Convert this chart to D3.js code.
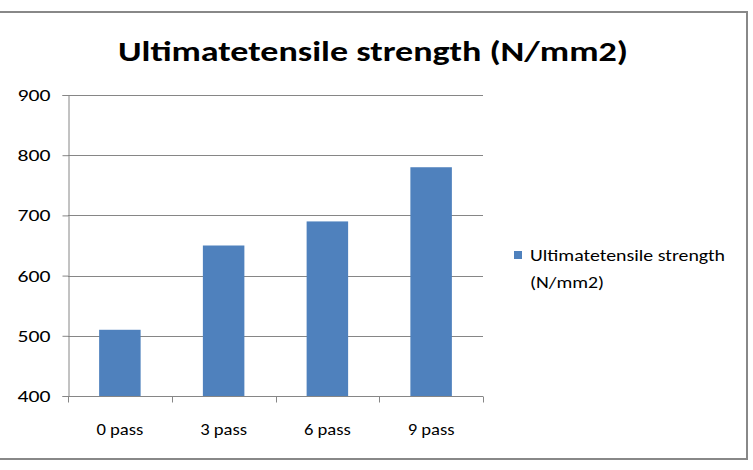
<!DOCTYPE html>
<html>
<head>
<meta charset="utf-8">
<script src="https://cdn.jsdelivr.net/npm/d3@7"></script>
<style>
  body { margin: 0; background: #fff; }
  svg { display: block; font-family: Carlito, Calibri, Lato, sans-serif; }
</style>
</head>
<body>
<svg id="chart" width="753" height="470"></svg>
<script>
const categories = ['0 pass', '3 pass', '6 pass', '9 pass'];
const values = [510, 650, 690, 780];
const yTicks = [400, 500, 600, 700, 800, 900];
const seriesName = 'Ultimatetensile strength (N/mm2)';
const legendLines = ['Ultimatetensile strength', '(N/mm2)'];

const width = 753;
const height = 470;
const plot = { left: 68, right: 483, top: 95, bottom: 396 };
const barColor = '#4F81BD';
const gridColor = '#868686';

const svg = d3.select('#chart');

// stretch a text node to a target width (reference text is wide)
const fitWidth = (sel, w) =>
  sel.attr('textLength', w).attr('lengthAdjust', 'spacingAndGlyphs');

// outer chart border (left edge runs off the image)
svg.append('rect')
  .attr('x', -5)
  .attr('y', 12)
  .attr('width', 752)
  .attr('height', 447)
  .attr('fill', '#fff')
  .attr('stroke', '#888')
  .attr('stroke-width', 2);

// title
svg.append('text')
  .attr('x', 118)
  .attr('y', 61)
  .attr('font-weight', 'bold')
  .attr('font-size', 29)
  .attr('fill', '#000')
  .text(seriesName)
  .call(fitWidth, 510);

const x = d3.scaleBand()
  .domain(categories)
  .range([plot.left, plot.right])
  .paddingInner(0.6)
  .paddingOuter(0.3);

const y = d3.scaleLinear()
  .domain([400, 900])
  .range([plot.bottom, plot.top]);

// gridlines
svg.append('g')
  .selectAll('line')
  .data(yTicks.slice(1))
  .join('line')
  .attr('x1', plot.left)
  .attr('x2', plot.right)
  .attr('y1', d => Math.round(y(d)) + 0.5)
  .attr('y2', d => Math.round(y(d)) + 0.5)
  .attr('stroke', gridColor)
  .attr('stroke-width', 1);

// bars
svg.append('g')
  .selectAll('rect')
  .data(values)
  .join('rect')
  .attr('x', (d, i) => x(categories[i]))
  .attr('y', d => y(d))
  .attr('width', x.bandwidth())
  .attr('height', d => y(400) - y(d))
  .attr('fill', barColor);

// y axis
const gy = svg.append('g')
  .attr('transform', `translate(${plot.left + 0.5},0)`)
  .call(d3.axisLeft(y).tickValues(yTicks).tickSize(6).tickPadding(12).tickFormat(d3.format('d')));
gy.select('.domain').attr('stroke', gridColor);
gy.selectAll('.tick line').attr('stroke', gridColor);
gy.selectAll('.tick text')
  .attr('font-size', 17)
  .attr('fill', '#000')
  .attr('font-family', 'Carlito, Calibri, Lato, sans-serif')
  .call(fitWidth, 33);

// x axis with ticks at category boundaries
const xAxisG = svg.append('g')
  .attr('transform', `translate(0,${plot.bottom + 0.5})`);
xAxisG.append('line')
  .attr('x1', plot.left)
  .attr('x2', plot.right)
  .attr('stroke', gridColor);
xAxisG.selectAll('line.tk')
  .data(d3.range(categories.length + 1))
  .join('line')
  .attr('class', 'tk')
  .attr('x1', i => Math.round(plot.left + i * (plot.right - plot.left) / categories.length) + 0.5)
  .attr('x2', i => Math.round(plot.left + i * (plot.right - plot.left) / categories.length) + 0.5)
  .attr('y1', 0)
  .attr('y2', 6)
  .attr('stroke', gridColor);
xAxisG.selectAll('text')
  .data(categories)
  .join('text')
  .attr('x', d => x(d) + x.bandwidth() / 2)
  .attr('y', 38)
  .attr('text-anchor', 'middle')
  .attr('font-size', 17)
  .attr('fill', '#000')
  .text(d => d)
  .call(fitWidth, 47);

// legend
const legend = svg.append('g');
legend.append('rect')
  .attr('x', 514)
  .attr('y', 251)
  .attr('width', 8)
  .attr('height', 8)
  .attr('fill', barColor);
legend.selectAll('text')
  .data(legendLines)
  .join('text')
  .attr('x', 530)
  .attr('y', (d, i) => 261 + i * 27)
  .attr('font-size', 17)
  .attr('fill', '#000')
  .text(d => d)
  .each(function (d, i) {
    d3.select(this).call(fitWidth, i === 0 ? 195 : 74);
  });
</script>
</body>
</html>
